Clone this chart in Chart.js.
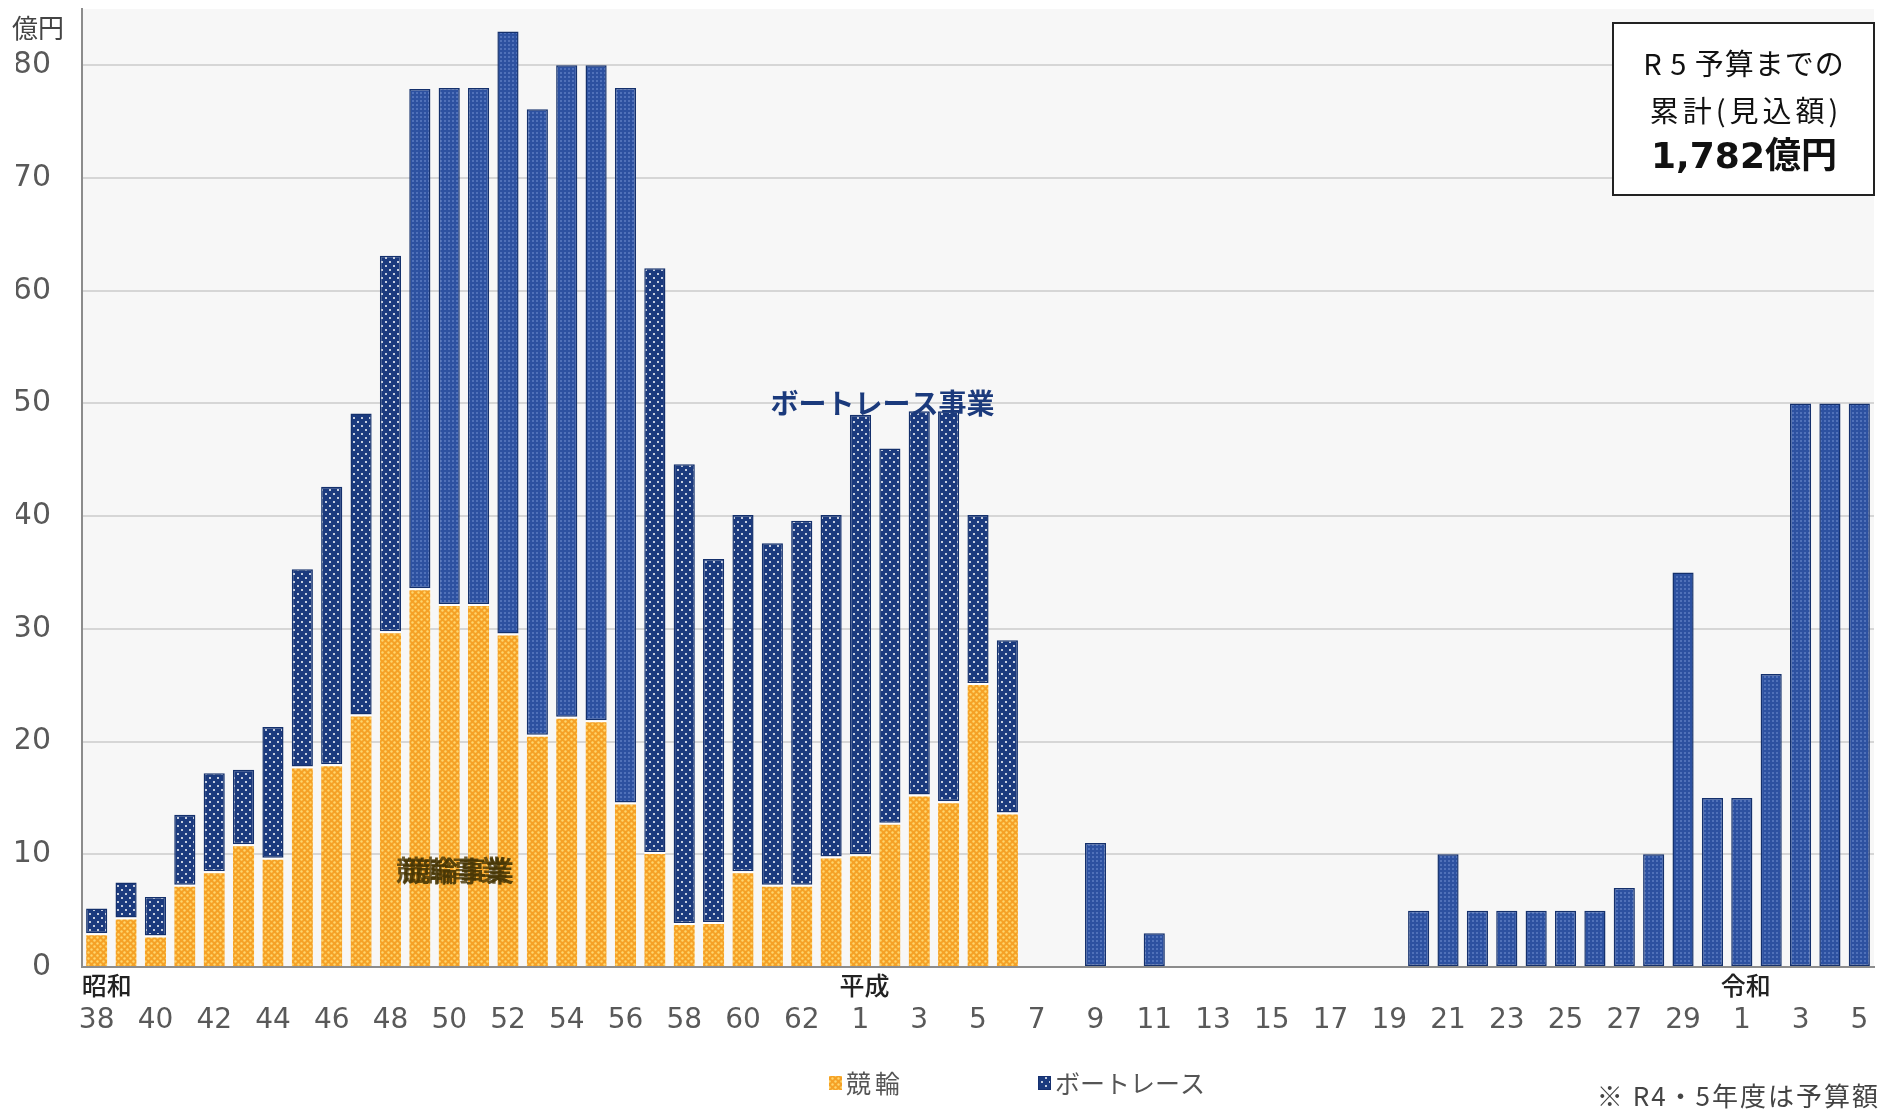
<!DOCTYPE html>
<html><head><meta charset="utf-8">
<script src="https://cdn.jsdelivr.net/npm/chart.js@4"></script>
<style>html,body{margin:0;padding:0;background:#fff;}#wrap{width:1887px;height:1112px;position:relative;}canvas{display:block;}</style>
</head><body><div id="wrap"><canvas id="c" width="1887" height="1112" style="width:1887px;height:1112px"></canvas></div>
<script>
// ---- data ----
const categories = ['38','39','40','41','42','43','44','45','46','47','48','49','50','51','52','53','54','55','56','57','58','59','60','61','62','63',
  '1','2','3','4','5','6','7','8','9','10','11','12','13','14','15','16','17','18','19','20','21','22','23','24','25','26','27','28','29','30',
  '1','2','3','4','5'];
const eraNames = ['昭和','平成','令和'];
const keirin = [3.0,4.4,2.8,7.3,8.5,10.9,9.7,17.8,18.0,22.4,29.8,33.6,32.2,32.2,29.6,20.6,22.2,21.9,14.6,10.2,3.9,4.0,8.5,7.3,7.3,9.8,
  10.0,12.8,15.3,14.7,25.2,13.7,null,null,null,null,null,null,null,null,null,null,null,null,null,null,null,null,null,null,null,null,null,null,null,null,
  null,null,null,null,null];
const boatrace = [2.2,3.1,3.4,6.2,8.7,6.6,11.6,17.5,24.6,26.7,33.3,44.3,45.8,45.8,53.4,55.5,57.8,58.1,63.4,51.8,40.7,32.2,31.6,30.3,32.3,30.3,
  39.0,33.2,34.0,34.6,14.9,15.3,null,null,11,null,3,null,null,null,null,null,null,null,null,5,10,5,5,5,5,5,7,10,35,15,
  15,26,50,50,50];
const yTicks = [0,10,20,30,40,50,60,70,80];
const seriesNames = ['競輪','ボートレース'];
const totalBox = ['R 5 予算までの','累計(見込額)','1,782億円'];
const note = '※ R4・5年度は予算額';
const unitLabel = '億円';

// ---- patterns ----
function makePattern(size, bg, dot, r, offset){
  const c = document.createElement('canvas'); c.width = size; c.height = size;
  const g = c.getContext('2d');
  g.fillStyle = bg; g.fillRect(0,0,size,size);
  g.fillStyle = dot;
  g.beginPath(); g.arc(size*0.25, size*0.25, r, 0, Math.PI*2); g.fill();
  if (offset){ g.beginPath(); g.arc(size*0.75, size*0.75, r, 0, Math.PI*2); g.fill(); }
  return g.createPattern(c, 'repeat');
}
const orangePat = makePattern(6, '#f5a126', '#ffd66e', 1.2, true);
const bluePatA = makePattern(8, '#1b3a7e', '#ffffff', 1.0, true);
const bluePatB = makePattern(4, '#2d51a0', '#7e9bd8', 0.8, false);
function bluePatFor(i){ return ((i>=11 && i<=18) || i>=32) ? bluePatB : bluePatA; }

const FONT_JP = '"Noto Sans CJK JP", "Noto Sans", sans-serif';
const FONT_NUM = '"DejaVu Sans", Verdana, sans-serif';

const decor = {
  id:'decor',
  beforeDraw(chart){
    const {ctx, chartArea:a} = chart;
    ctx.save(); ctx.fillStyle = '#f7f7f7';
    ctx.fillRect(a.left, a.top, a.right-a.left, a.bottom-a.top);
    ctx.restore();
  },
  afterDraw(chart){
    const {ctx, scales:{x,y}} = chart;
    ctx.save();
    // era labels
    ctx.font = '500 25px ' + FONT_JP; ctx.fillStyle = '#222'; ctx.textAlign='center'; ctx.textBaseline='middle';
    let e = 0;
    categories.forEach((c,i)=>{
      if (i===0 || Number(c) < Number(categories[i-1])) {
        const px = x.getPixelForValue(i) + (i===0 ? 10 : 4);
        ctx.fillText(eraNames[e++], px, y.bottom + 18);
      }
    });
    // unit label
    ctx.textAlign='left'; ctx.fillStyle='#444'; ctx.font = '26px ' + FONT_JP;
    ctx.fillText(unitLabel, 12, 28);
    // boat race annotation
    ctx.textAlign='center'; ctx.font = 'bold 28px ' + FONT_JP; ctx.fillStyle = '#1b3a7c';
    ctx.fillText('ボートレース事業', x.getPixelForValue(26.75), y.getPixelForValue(50));
    // keirin annotation (smeared)
    ctx.font = 'bold 28px ' + FONT_JP; ctx.fillStyle = '#463504';
    const kx = x.getPixelForValue(12.2), ky = y.getPixelForValue(8.6);
    ctx.globalAlpha = 0.8; ctx.fillText('競輪事業', kx-3, ky);
    ctx.globalAlpha = 0.9; ctx.fillText('競輪事業', kx+3, ky+1);
    ctx.globalAlpha = 1;
    // total box
    ctx.fillStyle = '#fff'; ctx.fillRect(1613, 23, 261, 172);
    ctx.strokeStyle = '#222'; ctx.lineWidth = 2; ctx.strokeRect(1613, 23, 261, 172);
    ctx.fillStyle = '#111'; ctx.textAlign='center';
    ctx.font = '29px ' + FONT_JP;
    ctx.letterSpacing = '1px';
    ctx.fillText(totalBox[0], 1744, 64);
    ctx.letterSpacing = '4px';
    ctx.fillText(totalBox[1], 1746, 111);
    ctx.letterSpacing = '0px';
    ctx.font = 'bold 36px "DejaVu Sans", "Noto Sans CJK JP", sans-serif';
    ctx.fillText(totalBox[2], 1744, 159);
    // legend
    const ly = 1083;
    ctx.font = '25px ' + FONT_JP; ctx.textAlign='left';
    ctx.fillStyle = orangePat; ctx.fillRect(829, ly-7, 13, 14);
    ctx.fillStyle = '#555'; ctx.letterSpacing = '4px'; ctx.fillText(seriesNames[0], 846, ly);
    ctx.letterSpacing = '0px';
    ctx.fillStyle = bluePatA; ctx.fillRect(1038, ly-7, 13, 14);
    ctx.strokeStyle='#163070'; ctx.lineWidth=1; ctx.strokeRect(1038.5, ly-6.5, 12, 13);
    ctx.fillStyle = '#555'; ctx.fillText(seriesNames[1], 1055, ly);
    // note
    ctx.textAlign='right'; ctx.fillStyle='#444'; ctx.font = '26px ' + FONT_JP;
    ctx.letterSpacing = '2px';
    ctx.fillText(note, 1880, 1096);
    ctx.restore();
  }
};

new Chart(document.getElementById('c'), {
  type:'bar',
  data:{
    labels: categories,
    datasets:[
      {label: seriesNames[0], data: keirin, backgroundColor: orangePat, borderColor:'#ffffff',
       borderWidth:{top:2,left:0,right:0,bottom:0}, borderSkipped:false, stack:'s'},
      {label: seriesNames[1], data: boatrace, backgroundColor: (c)=>bluePatFor(c.dataIndex),
       borderColor:'#14306c', borderWidth:1.5, borderSkipped:false, stack:'s'}
    ]
  },
  plugins:[decor],
  options:{
    responsive:false, animation:false, devicePixelRatio:1,
    layout:{padding:{left:16, right:13, top:9, bottom:78}},
    plugins:{legend:{display:false}, tooltip:{enabled:false}},
    scales:{
      x:{stacked:true, categoryPercentage:1, barPercentage:0.66,
        afterFit:(s)=>{ s.height = 67; s.paddingLeft = 0; s.paddingRight = 0; },
        grid:{display:false, drawTicks:false},
        border:{display:true, color:'#8c8c8c', width:2},
        ticks:{autoSkip:false, maxRotation:0, minRotation:0, padding:37,
          color:'#595959', font:{family:FONT_NUM, size:28},
          callback:(v,i)=> i%2===0 ? categories[i] : ''}
      },
      y:{stacked:true, min:0, max:85,
        afterBuildTicks:(s)=>{ s.ticks = yTicks.map(v=>({value:v})); },
        afterFit:(s)=>{ s.width = 66; s.paddingTop = 0; s.paddingBottom = 0; },
        grid:{color:'#d6d6d6', lineWidth:2, drawTicks:false},
        border:{display:true, color:'#8c8c8c', width:2},
        ticks:{padding:31, color:'#595959', font:{family:FONT_NUM, size:30}}
      }
    }
  }
});
</script></body></html>
